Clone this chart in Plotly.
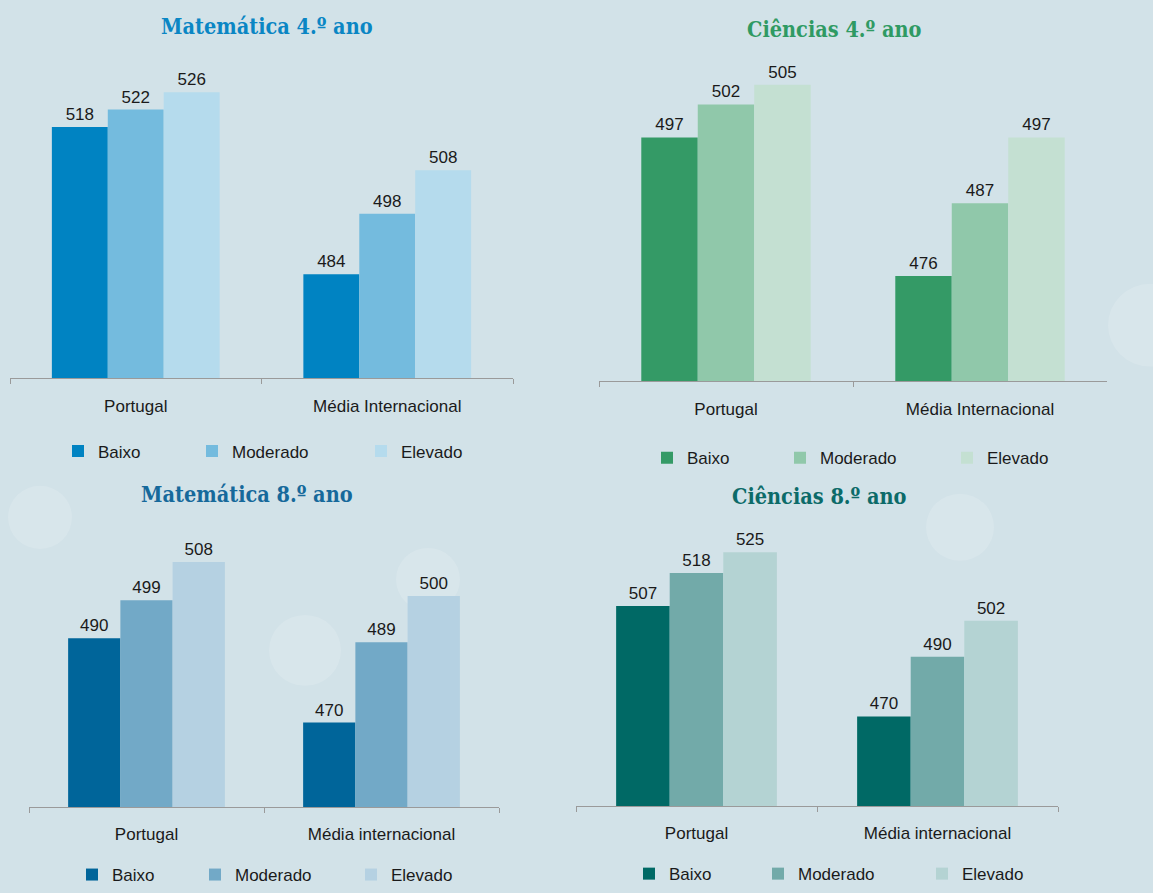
import plotly.graph_objects as go
from plotly.subplots import make_subplots

W, H = 1153, 893

# dados
categorias = ['Portugal', 'Média Internacional']
categorias_8 = ['Portugal', 'Média internacional']
niveis = ['Baixo', 'Moderado', 'Elevado']

mat4_baixo = [518, 484]
mat4_moderado = [522, 498]
mat4_elevado = [526, 508]

cie4_baixo = [497, 476]
cie4_moderado = [502, 487]
cie4_elevado = [505, 497]

mat8_baixo = [490, 470]
mat8_moderado = [499, 489]
mat8_elevado = [508, 500]

cie8_baixo = [507, 470]
cie8_moderado = [518, 490]
cie8_elevado = [525, 502]

# configuração de cada painel (posições em píxeis)
PAINEIS = [
    dict(titulo='Matemática 4.º ano', cor_titulo='#0a86c4', tit_xy=(267, 27),
         cats=categorias, series=[mat4_baixo, mat4_moderado, mat4_elevado],
         cores=['#0083c2', '#74bbde', '#b5dbed'],
         xdom=(10, 513), ydom=(54, 384), yrange=(460, 535),
         leg_x=58, leg_y=458, leg_w=[89, 124, 110]),
    dict(titulo='Ciências 4.º ano', cor_titulo='#2f9a63', tit_xy=(834, 30),
         cats=categorias, series=[cie4_baixo, cie4_moderado, cie4_elevado],
         cores=['#349a66', '#90c8aa', '#c4e0d2'],
         xdom=(599, 1107), ydom=(52.5, 387), yrange=(460, 510),
         leg_x=647, leg_y=465, leg_w=[88, 122, 110]),
    dict(titulo='Matemática 8.º ano', cor_titulo='#16699b', tit_xy=(247, 502),
         cats=categorias_8, series=[mat8_baixo, mat8_moderado, mat8_elevado],
         cores=['#00659a', '#72a9c7', '#b5d1e2'],
         xdom=(29, 499), ydom=(519, 819), yrange=(450, 520),
         leg_x=72, leg_y=888, leg_w=[78, 111, 100]),
    dict(titulo='Ciências 8.º ano', cor_titulo='#0c6b69', tit_xy=(820, 504),
         cats=categorias_8, series=[cie8_baixo, cie8_moderado, cie8_elevado],
         cores=['#006965', '#72aaa9', '#b4d3d3'],
         xdom=(576, 1058), ydom=(530, 818), yrange=(440, 535),
         leg_x=629, leg_y=887, leg_w=[84, 119, 100]),
]

FONTE = 'Liberation Sans, Arial, sans-serif'
FONTE_TITULO = 'DejaVu Serif Condensed, DejaVu Serif, serif'


def px_x(v):
    return v / W


def px_y(v):
    return 1 - v / H


fig = make_subplots(rows=2, cols=2)

for i, p in enumerate(PAINEIS):
    row, col = i // 2 + 1, i % 2 + 1
    leg = 'legend' if i == 0 else f'legend{i + 1}'
    for nome, valores, cor, lw in zip(niveis, p['series'], p['cores'], p['leg_w']):
        fig.add_trace(go.Bar(
            x=p['cats'], y=valores, name=nome,
            marker=dict(color=cor, line=dict(width=0)),
            text=valores, textposition='outside',
            textfont=dict(family=FONTE, size=17, color='#1a1a1a'),
            cliponaxis=False, constraintext='none',
            legend=leg, legendwidth=lw,
            hovertemplate='%{x}<br>' + nome + ': %{y}<extra></extra>'
        ), row=row, col=col)

    n = '' if i == 0 else str(i + 1)
    fig.layout['xaxis' + n].update(
        domain=[px_x(p['xdom'][0]), px_x(p['xdom'][1])],
        showline=True, linecolor='#9a9a9a', linewidth=1,
        ticks='outside', tickson='boundaries', ticklen=5, tickcolor='#9a9a9a',
        ticklabelstandoff=12,
        tickfont=dict(family=FONTE, size=17, color='#1a1a1a'),
        showgrid=False, zeroline=False, fixedrange=True
    )
    fig.layout['yaxis' + n].update(
        domain=[px_y(p['ydom'][1]), px_y(p['ydom'][0])],
        range=list(p['yrange']), visible=False, showgrid=False, fixedrange=True
    )
    fig.layout[leg] = dict(
        orientation='h', x=px_x(p['leg_x']), y=px_y(p['leg_y']),
        xanchor='left', yanchor='middle', bgcolor='rgba(0,0,0,0)',
        font=dict(family=FONTE, size=17, color='#1a1a1a'),
        itemclick=False, itemdoubleclick=False
    )
    fig.add_annotation(
        text=p['titulo'], x=px_x(p['tit_xy'][0]), y=px_y(p['tit_xy'][1]),
        xref='paper', yref='paper', showarrow=False,
        xanchor='center', yanchor='middle',
        font=dict(family=FONTE_TITULO, size=21.5, color=p['cor_titulo'], weight='bold')
    )

# manchas claras do fundo (decoração)
for cx, cy, r in [(40, 525, 32), (305, 660, 36), (428, 588, 32), (1150, 330, 42), (960, 535, 34)]:
    fig.add_shape(type='circle', xref='paper', yref='paper', layer='below',
                  x0=px_x(cx - r), x1=px_x(cx + r), y0=px_y(cy + r), y1=px_y(cy - r),
                  fillcolor='rgba(255,255,255,0.14)', line=dict(width=0))

fig.update_layout(
    width=W, height=H,
    margin=dict(l=0, r=0, t=0, b=0),
    paper_bgcolor='#d2e2e8', plot_bgcolor='rgba(0,0,0,0)',
    barmode='group', bargap=0.333, bargroupgap=0,
    showlegend=True,
    font=dict(family=FONTE, color='#1a1a1a')
)

fig.write_html('out.html', config={'displayModeBar': False},
               post_script="document.body.style.margin='0';")
